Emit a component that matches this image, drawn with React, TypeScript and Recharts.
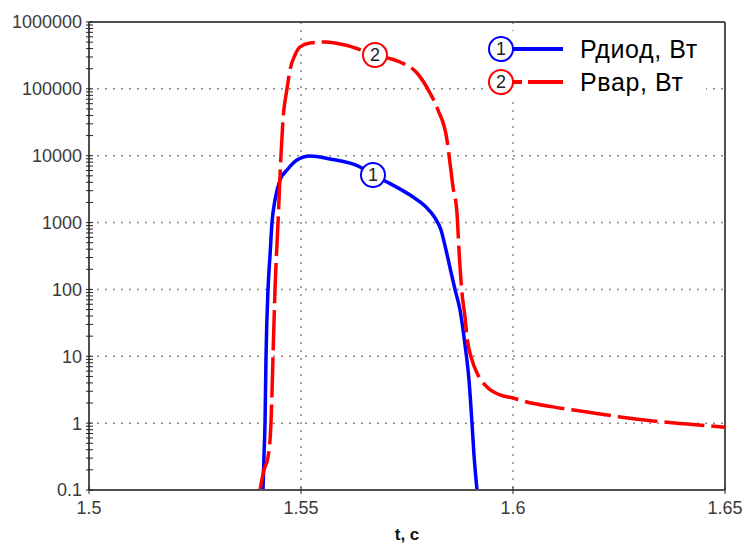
import React from 'react';
import { LineChart, Line, XAxis, YAxis, CartesianGrid, ReferenceLine } from 'recharts';

// ---- data ----
const diodeT = [1.54104, 1.54127, 1.54151, 1.54175, 1.54222, 1.5427, 1.54316, 1.54387, 1.54505, 1.5467, 1.54906, 1.55212, 1.55684, 1.56392, 1.56698, 1.57028, 1.57642, 1.57925, 1.5816, 1.58302, 1.5842, 1.58538, 1.58632, 1.5875, 1.58868, 1.58962, 1.59033, 1.5908, 1.59151];
const diodeP = [0.1, 0.32, 1, 10, 100, 327, 1000, 2178, 4335, 6110, 8630, 9900, 8930, 6780, 5150, 4045, 2413, 1770, 1172, 775, 389, 182, 100, 49.2, 14.8, 4.42, 1, 0.334, 0.1];

const varT = [1.54033, 1.54127, 1.54222, 1.54292, 1.5434, 1.54387, 1.54458, 1.54481, 1.54528, 1.54575, 1.5467, 1.5474, 1.54858, 1.54976, 1.55212, 1.55566, 1.56038, 1.56745, 1.57335, 1.57736, 1.58042, 1.58231, 1.58443, 1.58514, 1.58585, 1.58679, 1.58726, 1.58797, 1.58868, 1.58915, 1.59033, 1.59151, 1.59387, 1.59693, 1.6, 1.6033, 1.60943, 1.61745, 1.62524, 1.63302, 1.64104, 1.65];
const varP = [0.1, 0.2, 0.31, 1, 10, 100, 1000, 2178, 10250, 34200, 100000, 191500, 320900, 422700, 485000, 502000, 453000, 320900, 252000, 172700, 86700, 48300, 17200, 7790, 3405, 1390, 389, 88.5, 38.7, 19.4, 8.8, 5.62, 3.47, 2.64, 2.38, 2.07, 1.75, 1.47, 1.24, 1.08, 0.97, 0.87];

const DIODE_MARK_T = 1.56698;
const VAR_MARK_T = 1.56745;

const xTicks = [1.5, 1.55, 1.6, 1.65];
const xGrid = [1.55, 1.6];
const yDecades = [0.1, 1, 10, 100, 1000, 10000, 100000, 1000000];
const yGrid = [1, 10, 100, 1000, 10000, 100000];
const minorMults = [1, 2, 3, 4, 5, 6, 7, 8, 9];

const seriesNames = ['Рдиод, Вт', 'Рвар, Вт'];
const xLabel = 't, c';

const diodeData = diodeT.map((t, i) => ({ t, p: diodeP[i] }));
const varData = varT.map((t, i) => ({ t, p: varP[i] }));
const yTicks: number[] = [];
yDecades.slice(0, -1).forEach((d) => minorMults.forEach((m) => yTicks.push(d * m)));
yTicks.push(yDecades[yDecades.length - 1]);

// ---- layout ----
const W = 744;
const H = 545;
const PLOT_LEFT = 89;
const PLOT_TOP = 22;
const PLOT_RIGHT = 725;
const PLOT_BOTTOM = 490;
const FONT = '"Liberation Sans", Arial, sans-serif';
const AXIS_COLOR = '#505050';
const TEXT_COLOR = '#3a3a3a';
const BLUE = '#0000ff';
const RED = '#ff0000';
const DASH = '40 7';

const isDecade = (v: number) => Math.abs(Math.log10(v) - Math.round(Math.log10(v))) < 1e-9;

const YTick = (props: any) => {
  const { y, payload } = props;
  const v = payload.value as number;
  return (
    <g>
      <line x1={PLOT_LEFT - 3} x2={PLOT_LEFT + 4} y1={y} y2={y} stroke="#222" strokeWidth={1} />
      {isDecade(v) && (
        <text x={PLOT_LEFT - 7} y={y} dy="0.36em" textAnchor="end" fontFamily={FONT} fontSize={18} fill={TEXT_COLOR}>
          {String(Math.round(v * 10) / 10)}
        </text>
      )}
    </g>
  );
};

const XTick = (props: any) => {
  const { x, payload } = props;
  return (
    <g>
      <line x1={x} x2={x} y1={PLOT_BOTTOM - 3} y2={PLOT_BOTTOM + 4} stroke="#222" strokeWidth={1} />
      <text x={x} y={PLOT_BOTTOM + 18} dy="0.36em" textAnchor="middle" fontFamily={FONT} fontSize={18} fill={TEXT_COLOR}>
        {String(payload.value)}
      </text>
    </g>
  );
};

const makeMarkDot = (markT: number, color: string, label: string) => (props: any) => {
  const { cx, cy, payload, index } = props;
  if (!payload || Math.abs(payload.t - markT) > 1e-9) return <g key={`d${index}`} />;
  return (
    <g key={`d${index}`}>
      <circle cx={cx} cy={cy} r={12} fill="#fff" stroke={color} strokeWidth={2} />
      <text x={cx} y={cy} dy="0.36em" textAnchor="middle" fontFamily={FONT} fontSize={18} fill="#222">
        {label}
      </text>
    </g>
  );
};

const LegendBox = () => (
  <div
    style={{
      position: 'absolute',
      left: 484,
      top: 31,
      width: 222,
      height: 65,
      background: '#fff',
    }}
  >
    <svg width={222} height={65} style={{ position: 'absolute', left: 0, top: 0 }}>
      <line x1={28} x2={79} y1={18} y2={18} stroke={BLUE} strokeWidth={4} />
      <circle cx={17} cy={18} r={12} fill="#fff" stroke={BLUE} strokeWidth={2} />
      <text x={17} y={18} dy="0.36em" textAnchor="middle" fontFamily={FONT} fontSize={18} fill="#222">1</text>
      <line x1={28} x2={38} y1={51} y2={51} stroke={RED} strokeWidth={4} />
      <line x1={44} x2={79} y1={51} y2={51} stroke={RED} strokeWidth={4} />
      <circle cx={17} cy={51} r={12} fill="#fff" stroke={RED} strokeWidth={2} />
      <text x={17} y={51} dy="0.36em" textAnchor="middle" fontFamily={FONT} fontSize={18} fill="#222">2</text>
      <text x={96} y={18} dy="0.36em" fontFamily={FONT} fontSize={25} letterSpacing={0.6} fill="#000">{seriesNames[0]}</text>
      <text x={96} y={51} dy="0.36em" fontFamily={FONT} fontSize={25} letterSpacing={0.6} fill="#000">{seriesNames[1]}</text>
    </svg>
  </div>
);

export default function App() {
  return (
    <div style={{ position: 'relative', width: W, height: H, background: '#fff' }}>
      <style>{`body{margin:0;}`}</style>
      <LineChart
        width={W}
        height={H}
        margin={{ top: PLOT_TOP, right: W - PLOT_RIGHT, left: 0, bottom: 0 }}
      >
        <CartesianGrid
          horizontalValues={yGrid}
          verticalValues={xGrid}
          stroke="#8a8a8a"
          strokeDasharray="2 6"
          strokeWidth={1.5}
        />
        <XAxis
          dataKey="t"
          type="number"
          domain={[xTicks[0], xTicks[xTicks.length - 1]]}
          ticks={xTicks}
          interval={0}
          allowDataOverflow
          height={H - PLOT_BOTTOM}
          tickLine={false}
          axisLine={{ stroke: AXIS_COLOR, strokeWidth: 2 }}
          tick={<XTick />}
          label={{ value: xLabel, position: 'insideBottom', offset: 5, style: { fontFamily: FONT, fontSize: 17, fontWeight: 'bold', fill: '#111' } }}
        />
        <YAxis
          dataKey="p"
          type="number"
          scale="log"
          domain={[yDecades[0], yDecades[yDecades.length - 1]]}
          ticks={yTicks}
          interval={0}
          allowDataOverflow
          width={PLOT_LEFT}
          tickLine={false}
          axisLine={{ stroke: AXIS_COLOR, strokeWidth: 2 }}
          tick={<YTick />}
        />
        <ReferenceLine y={yDecades[yDecades.length - 1]} stroke={AXIS_COLOR} strokeWidth={2} />
        <ReferenceLine x={xTicks[xTicks.length - 1]} stroke={AXIS_COLOR} strokeWidth={2} />
        <Line
          data={diodeData}
          dataKey="p"
          type="monotoneX"
          stroke={BLUE}
          strokeWidth={3.5}
          dot={makeMarkDot(DIODE_MARK_T, BLUE, '1')}
          activeDot={false}
          isAnimationActive={false}
        />
        <Line
          data={varData}
          dataKey="p"
          type="monotoneX"
          stroke={RED}
          strokeWidth={3.5}
          strokeDasharray={DASH}
          dot={makeMarkDot(VAR_MARK_T, RED, '2')}
          activeDot={false}
          isAnimationActive={false}
        />
      </LineChart>
      <LegendBox />
    </div>
  );
}
